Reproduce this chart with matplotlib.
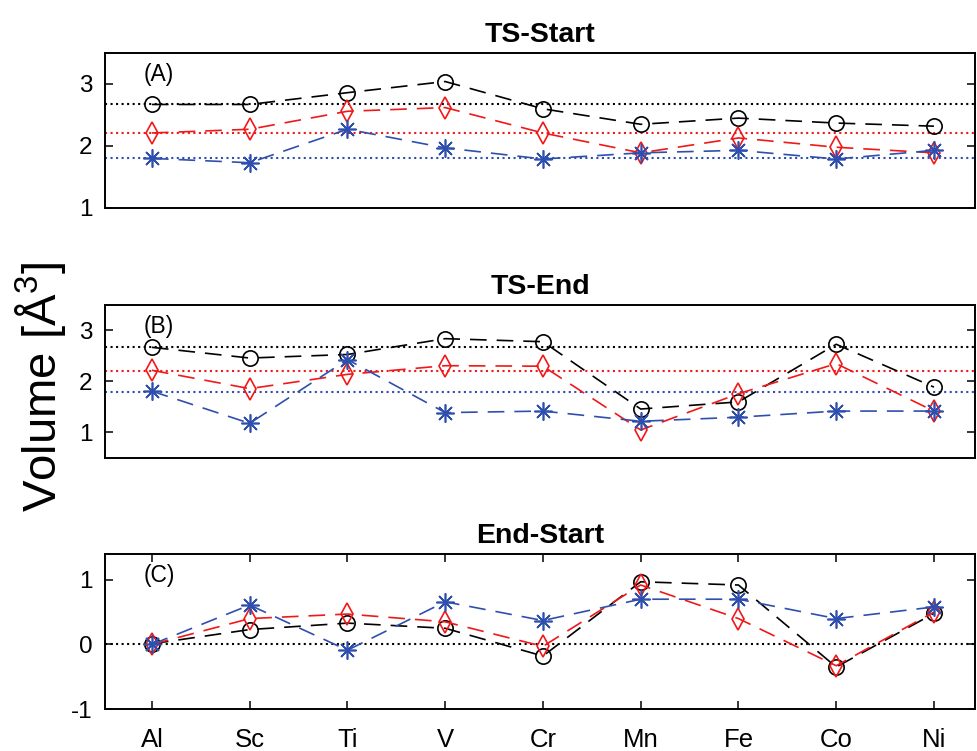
import numpy as np
import matplotlib
matplotlib.use("Agg")
import matplotlib.pyplot as plt

plt.rcParams['font.family'] = ['Liberation Sans', 'DejaVu Sans']
plt.rcParams['mathtext.fontset'] = 'custom'
plt.rcParams['mathtext.rm'] = 'Liberation Sans'
plt.rcParams['mathtext.it'] = 'Liberation Sans'
plt.rcParams['axes.unicode_minus'] = False

# ----------------- Data -----------------
elements = ['Al', 'Sc', 'Ti', 'V', 'Cr', 'Mn', 'Fe', 'Co', 'Ni']

# TS-Start
start_black = [2.67, 2.67, 2.86, 3.04, 2.60, 2.35, 2.45, 2.37, 2.32]
start_red = [2.21, 2.27, 2.56, 2.62, 2.21, 1.89, 2.13, 1.98, 1.89]
start_blue = [1.80, 1.73, 2.27, 1.97, 1.79, 1.89, 1.93, 1.79, 1.93]

# TS-End
end_black = [2.67, 2.46, 2.53, 2.84, 2.78, 1.46, 1.60, 2.73, 1.89]
end_red = [2.22, 1.86, 2.14, 2.31, 2.30, 1.05, 1.76, 2.35, 1.42]
end_blue = [1.81, 1.18, 2.43, 1.39, 1.42, 1.22, 1.30, 1.42, 1.42]

# End-Start
diff_black = [0.01, 0.23, 0.33, 0.25, -0.18, 0.97, 0.92, -0.35, 0.48]
diff_red = [0.00, 0.40, 0.47, 0.35, -0.03, 0.92, 0.40, -0.33, 0.50]
diff_blue = [0.00, 0.61, -0.09, 0.66, 0.37, 0.70, 0.70, 0.40, 0.58]

# dotted reference levels (Al values)
ref_levels = [2.67, 2.21, 1.80]
ref_diff = [0.0]

BLACK = 'black'
RED = '#f01818'
BLUE = '#2f4fae'
colors = [BLACK, RED, BLUE]
markers = ['o', 'd', (8, 2, 0)]
msizes = [11, 11, 13]

W, H = 977, 751
fig = plt.figure(figsize=(W / 100, H / 100), dpi=100)


def px_axes(left, top, right, bottom):
    return fig.add_axes([left / W, 1 - bottom / H, (right - left) / W, (bottom - top) / H])


def draw_panel(ax, series, refs, ref_colors, title, label, ylim, yticks, show_x):
    x = np.arange(len(elements))
    for yv, c in zip(refs, ref_colors):
        ax.axhline(yv, color=c, linestyle=':', linewidth=1.5, zorder=1)
    for vals, c, m, ms in zip(series, colors, markers, msizes):
        ax.plot(x, vals, color=c, linestyle=(0, (10, 6)), linewidth=1.2,
                marker=m, markersize=ms, markerfacecolor='none',
                markeredgecolor=c, markeredgewidth=1.2, zorder=3)
    ax.set_xlim(-0.48, 8.42)
    ax.set_ylim(*ylim)
    ax.set_yticks(yticks)
    ax.tick_params(axis='y', direction='in', left=True, right=True, length=6,
                   width=1.1, labelsize=17.5, pad=9)
    if show_x:
        ax.set_xticks(x)
        ax.set_xticklabels(elements)
        ax.tick_params(axis='x', direction='in', top=True, bottom=True, length=6,
                       width=1.1, labelsize=18.5, pad=14)
    else:
        ax.set_xticks([])
    for s in ax.spines.values():
        s.set_linewidth(1.4)
    ax.set_title(title, fontsize=20.5, fontweight='bold', pad=8)
    ax.text(0.044, 0.86, label, transform=ax.transAxes, fontsize=16.5,
            ha='left', va='center')


axA = px_axes(105, 53, 975, 208)
draw_panel(axA, [start_black, start_red, start_blue], ref_levels, colors,
           'TS-Start', '(A)', (1, 3.5), [1, 2, 3], False)

axB = px_axes(105, 305, 975, 458)
draw_panel(axB, [end_black, end_red, end_blue], ref_levels, colors,
           'TS-End', '(B)', (0.5, 3.5), [1, 2, 3], False)

axC = px_axes(105, 554, 975, 709)
draw_panel(axC, [diff_black, diff_red, diff_blue], ref_diff, [BLACK],
           'End-Start', '(C)', (-1, 1.4), [-1, 0, 1], True)

fig.text(40 / W, 1 - 387 / H, r'Volume [Å$^{3}$]', rotation=90, fontsize=34,
         ha='center', va='center')

fig.savefig('out.png', dpi=100)
